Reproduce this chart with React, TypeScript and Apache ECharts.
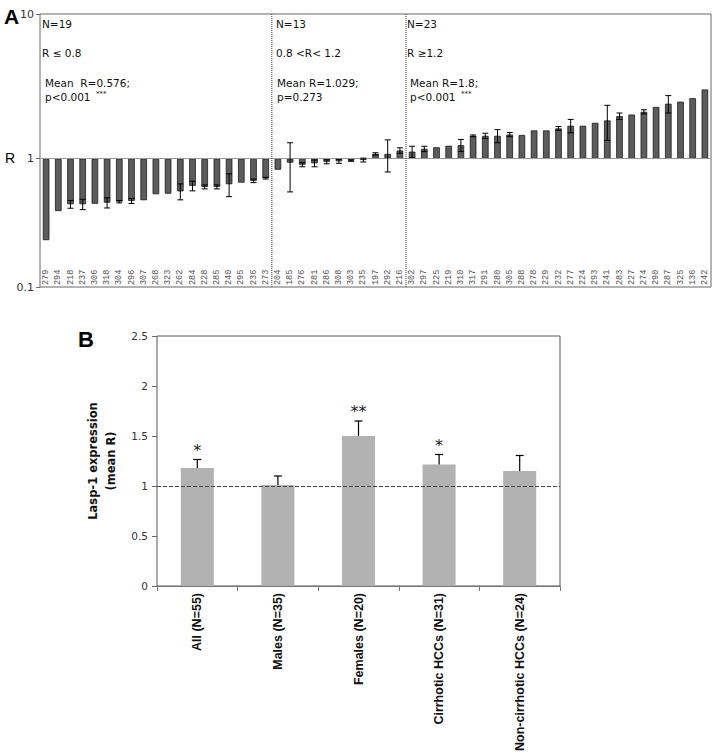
import React, { useEffect, useRef } from "react";
import * as echarts from "echarts";

// ---------- Panel A data ----------
const sampleIds = [
  "279", "294", "218", "237", "306", "318", "304", "296", "307", "268", "323", "262", "284", "228", "285", "240", "295", "236", "273",
  "204", "185", "276", "281", "286", "308", "303", "235", "197", "292", "216",
  "302", "297", "225", "219", "310", "317", "291", "280", "305", "288", "278", "229", "232", "277", "224", "293", "241", "283", "227", "274", "290", "287", "325", "136", "242",
];
const ratioValues = [
  0.274, 0.435, 0.485, 0.485, 0.489, 0.497, 0.505, 0.511, 0.517, 0.569, 0.574, 0.595, 0.65, 0.639, 0.639, 0.667, 0.684, 0.704, 0.734,
  0.84, 0.94, 0.91, 0.93, 0.953, 0.96, 0.97, 0.98, 1.08, 1.08, 1.14,
  1.12, 1.17, 1.2, 1.23, 1.24, 1.44, 1.44, 1.44, 1.47, 1.46, 1.57, 1.57, 1.62, 1.69, 1.69, 1.77, 1.84, 1.97, 2.02, 2.11, 2.28, 2.4, 2.48, 2.62, 3.01,
];
const ratioErrors = [
  0, 0, 0.03, 0.04, 0, 0.04, 0.01, 0.02, 0, 0, 0, 0.075, 0.05, 0.02, 0.02, 0.12, 0, 0.02, 0.01,
  0, 0.35, 0.03, 0.05, 0.03, 0.03, 0.01, 0.03, 0.02, 0.27, 0.05,
  0.1, 0.05, 0, 0, 0.12, 0.02, 0.06, 0.15, 0.05, 0, 0, 0, 0.05, 0.18, 0, 0, 0.5, 0.1, 0, 0.07, 0, 0.33, 0, 0, 0,
];
const groupLastIndex = [18, 29];
const groupNotes = [
  ["N=19", "R \u2264 0.8", "Mean  R=0.576;", "p<0.001", "***"],
  ["N=13", "0.8 <R< 1.2", "Mean R=1.029;", "p=0.273", ""],
  ["N=23", "R \u22651.2", "Mean R=1.8;", "p<0.001", "***"],
];
const yTicksA = ["10", "1", "0.1"];

// ---------- Panel B data ----------
const subgroupNames = ["All (N=55)", "Males (N=35)", "Females (N=20)", "Cirrhotic HCCs (N=31)", "Non-cirrhotic HCCs (N=24)"];
const subgroupMeans = [1.18, 1.01, 1.5, 1.215, 1.15];
const subgroupSems = [0.085, 0.09, 0.15, 0.1, 0.155];
const subgroupStars = ["*", "", "**", "*", ""];

const noteX = [[42, 45], [276, 277], [407, 410]];
const noteY = [24, 53, 83, 97];

export default function App() {
  const ref = useRef<HTMLDivElement>(null);
  useEffect(() => {
    if (!ref.current) return;
    const chart = echarts.init(ref.current, null, { renderer: "svg" });

    const graphics: any[] = [
      { type: "text", x: 4, y: 16, style: { text: "A", fontFamily: "Liberation Sans", fontWeight: "bold", fontSize: 21, fill: "#000", verticalAlign: "middle" } },
      { type: "text", x: 5, y: 158, style: { text: "R", fontFamily: "Liberation Sans", fontSize: 14, fill: "#000", verticalAlign: "middle" } },
      { type: "text", x: 78, y: 339, style: { text: "B", fontFamily: "Liberation Sans", fontWeight: "bold", fontSize: 22, fill: "#000", verticalAlign: "middle" } },
    ];
    groupNotes.forEach((notes, g) => {
      notes.forEach((t, k) => {
        if (k === 4) {
          if (t) graphics.push({ type: "text", x: noteX[g][1] + 51, y: noteY[3] - 3, style: { text: t, fontFamily: "DejaVu Sans", fontSize: 7, fill: "#111", verticalAlign: "middle" } });
          return;
        }
        graphics.push({
          type: "text",
          x: k < 2 ? noteX[g][0] : noteX[g][1],
          y: noteY[k],
          style: { text: t, fontFamily: "DejaVu Sans", fontSize: 10.5, fill: "#111", verticalAlign: "middle" },
        });
      });
    });

    const option: any = {
      animation: false,
      backgroundColor: "#ffffff",
      graphic: graphics,
      grid: [
        { left: 40, top: 14, width: 671, height: 273, show: true, borderColor: "#666", borderWidth: 1, backgroundColor: "transparent" },
        { left: 157, top: 336, width: 403, height: 251, show: true, borderColor: "#555", borderWidth: 1, backgroundColor: "transparent" },
      ],
      xAxis: [
        {
          type: "category", gridIndex: 0, data: sampleIds,
          axisLine: { show: false }, axisTick: { show: false },
          axisLabel: { inside: true, rotate: 90, interval: 0, margin: 2, fontFamily: "Liberation Mono", fontSize: 8.5, color: "#555" },
        },
        {
          type: "category", gridIndex: 1, data: subgroupNames,
          axisLine: { show: true, lineStyle: { color: "#777" } },
          axisTick: { show: true, alignWithLabel: false, length: 5, lineStyle: { color: "#777" } },
          axisLabel: { rotate: 90, interval: 0, margin: 7, fontFamily: "Liberation Sans", fontWeight: "bold", fontSize: 12.5, color: "#111" },
        },
      ],
      yAxis: [
        {
          type: "log", gridIndex: 0, logBase: 10, min: 0.13, max: 10,
          splitLine: { show: false }, axisLine: { show: false },
          axisTick: { show: true, length: 4, lineStyle: { color: "#666" } },
          axisLabel: {
            margin: 6, fontFamily: "DejaVu Sans", fontSize: 11, color: "#333",
            formatter: (v: number) => (v >= 5 ? yTicksA[0] : v >= 0.5 ? yTicksA[1] : yTicksA[2]),
          },
        },
        {
          type: "value", gridIndex: 1, min: 0, max: 2.5, interval: 0.5,
          splitLine: { show: false }, axisLine: { show: false },
          axisTick: { show: true, length: 5, lineStyle: { color: "#666" } },
          axisLabel: { margin: 9, fontFamily: "DejaVu Sans", fontSize: 10.5, color: "#333" },
          name: "Lasp-1 expression\n(mean R)", nameLocation: "middle", nameGap: 27, nameRotate: 90,
          nameTextStyle: { fontFamily: "DejaVu Sans", fontWeight: "bold", fontSize: 11.5, color: "#111", lineHeight: 18 },
        },
      ],
      series: [
        {
          type: "bar", xAxisIndex: 0, yAxisIndex: 0, data: ratioValues, barWidth: "54%",
          itemStyle: { color: "#5c5c5c", borderColor: "#1a1a1a", borderWidth: 0.8 },
          markLine: { silent: true, symbol: "none", label: { show: false }, lineStyle: { color: "#999", type: "solid", width: 1 }, data: [{ yAxis: 1 }] },
          z: 2,
        },
        {
          type: "custom", xAxisIndex: 0, yAxisIndex: 0, z: 5,
          data: ratioValues.map((v, i) => [i, v, ratioErrors[i]]).filter((d) => d[2] > 0),
          encode: { x: 0, y: 1 },
          renderItem: (params: any, api: any) => {
            const i = api.value(0), v = api.value(1), e = api.value(2);
            const top = api.coord([i, v + e]);
            const bot = api.coord([i, v - e]);
            const st = { stroke: "#000", lineWidth: 1 };
            const h = 3;
            return {
              type: "group",
              children: [
                { type: "line", shape: { x1: top[0], y1: top[1], x2: bot[0], y2: bot[1] }, style: st },
                { type: "line", shape: { x1: top[0] - h, y1: top[1], x2: top[0] + h, y2: top[1] }, style: st },
                { type: "line", shape: { x1: bot[0] - h, y1: bot[1], x2: bot[0] + h, y2: bot[1] }, style: st },
              ],
            };
          },
        },
        {
          type: "custom", xAxisIndex: 0, yAxisIndex: 0, z: 6,
          data: groupLastIndex.map((i) => [i, 1]),
          encode: { x: 0, y: 1 },
          renderItem: (params: any, api: any) => {
            const i = api.value(0);
            const c = api.coord([i, 1]);
            const w = api.size([1, 1])[0];
            const cs = params.coordSys;
            const x = c[0] + w / 2;
            return { type: "line", shape: { x1: x, y1: cs.y, x2: x, y2: cs.y + cs.height }, style: { stroke: "#333", lineWidth: 1, lineDash: [1, 1] } };
          },
        },
        {
          type: "bar", xAxisIndex: 1, yAxisIndex: 1, data: subgroupMeans, barWidth: "41%",
          itemStyle: { color: "#b2b2b2" },
          markLine: { silent: true, symbol: "none", label: { show: false }, lineStyle: { color: "#444", type: [4, 2], width: 1 }, data: [{ yAxis: 1 }] },
        },
        {
          type: "custom", xAxisIndex: 1, yAxisIndex: 1, z: 5,
          data: subgroupMeans.map((m, i) => [i, m, subgroupSems[i]]),
          encode: { x: 0, y: 1 },
          renderItem: (params: any, api: any) => {
            const i = api.value(0), m = api.value(1), e = api.value(2);
            const base = api.coord([i, m]);
            const top = api.coord([i, m + e]);
            const st = { stroke: "#000", lineWidth: 1.2 };
            const children: any[] = [
              { type: "line", shape: { x1: base[0], y1: base[1], x2: top[0], y2: top[1] }, style: st },
              { type: "line", shape: { x1: top[0] - 4, y1: top[1], x2: top[0] + 4, y2: top[1] }, style: st },
            ];
            const star = subgroupStars[params.dataIndex];
            if (star) {
              children.push({ type: "text", x: top[0], y: top[1] - 1, style: { text: star, fontFamily: "DejaVu Sans", fontSize: 16, fill: "#222", align: "center", verticalAlign: "bottom" } });
            }
            return { type: "group", children };
          },
        },
      ],
    };
    chart.setOption(option);
    return () => chart.dispose();
  }, []);
  return <div ref={ref} style={{ position: "fixed", left: 0, top: 0, width: 716, height: 754, background: "#fff" }} />;
}
